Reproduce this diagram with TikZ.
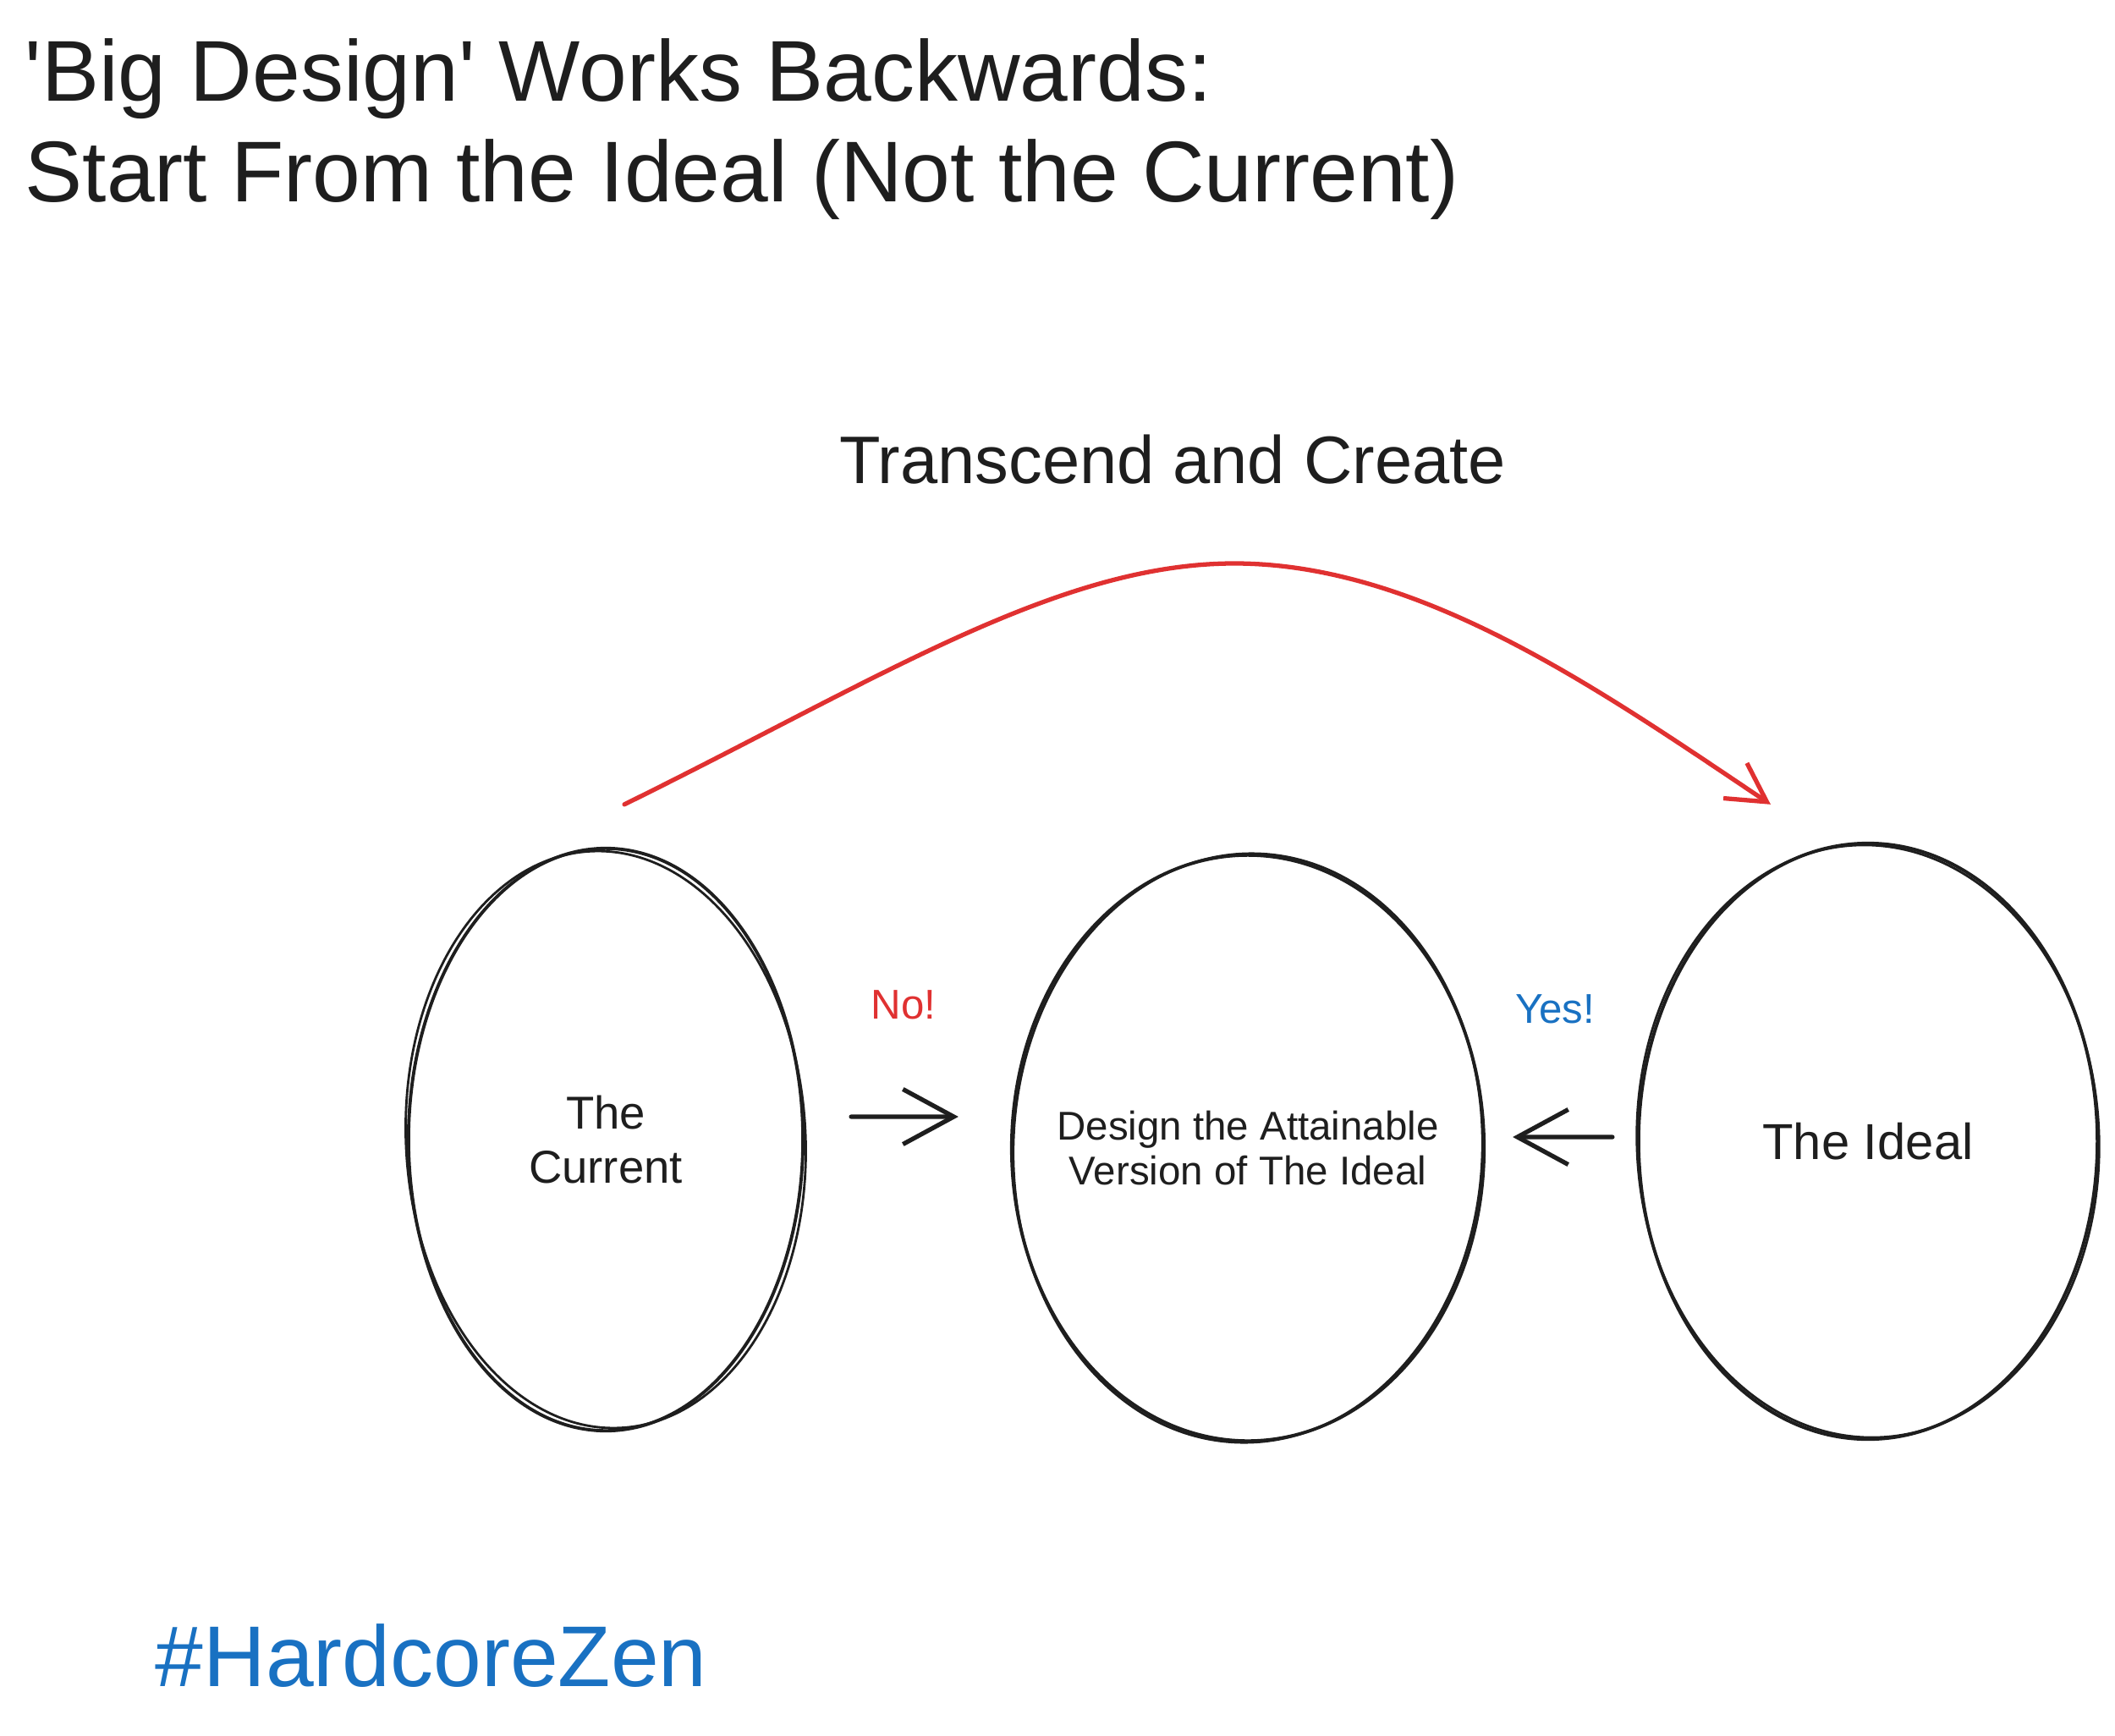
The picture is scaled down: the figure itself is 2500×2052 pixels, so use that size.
\documentclass[tikz,border=0pt]{standalone}
\usepackage{fontspec}
\setmainfont{Liberation Sans}
\usetikzlibrary{positioning, arrows.meta, shapes.geometric, calc}
\definecolor{inkcolor}{HTML}{1E1E1E}
\definecolor{nocolor}{HTML}{E03131}
\definecolor{yescolor}{HTML}{1971C2}

\begin{document}
\begin{tikzpicture}[x=0.01cm, y=-0.01cm,
    blob/.style={draw=inkcolor, ellipse, line width=1.1pt, inner sep=0pt,
                 align=center, text=inkcolor},
    sketchline/.style={draw=inkcolor, line width=0.8pt},
    push/.style={draw=inkcolor, line width=1.5pt, line cap=round,
                 -{Straight Barb[length=6mm, width=6.5mm, line width=1.5pt]}},
    leap/.style={draw=nocolor, line width=1.5pt, line cap=round,
                 -{Straight Barb[length=4.5mm, width=5mm, line width=1.5pt]}}]
  \useasboundingbox (0,0) rectangle (2500,2052);

  % title
  \node[anchor=base west, inner sep=0pt, text=inkcolor,
        font=\fontsize{29}{34}\selectfont] (title1) at (29,120)
    {\textquotesingle Big Design\textquotesingle\ Works Backwards:};
  \node[anchor=base west, inner sep=0pt, text=inkcolor,
        font=\fontsize{29}{34}\selectfont] (title2) at (29,239)
    {Start From the Ideal (Not the Current)};

  % the three states
  \node[blob, minimum width=4.66cm, minimum height=6.88cm,
        font=\fontsize{15.5}{18}\selectfont] (cur) at (716,1347)
    {The\\Current};
  \node[blob, minimum width=5.58cm, minimum height=6.92cm, inner xsep=-0.6cm,
        font=\fontsize{13.5}{15}\selectfont] (att) at (1475,1357)
    {Design the Attainable\\Version of The Ideal};
  \node[blob, minimum width=5.42cm, minimum height=7.04cm,
        font=\fontsize{17}{20}\selectfont] (ide) at (2208,1349)
    {The Ideal};
  \foreach \n/\rx/\ry/\a in {cur/2.36cm/3.41cm/3, att/2.77cm/3.48cm/-2, ide/2.73cm/3.50cm/2}
    \draw[sketchline, rotate around={\a:(\n.center)}] (\n.center)
      ellipse [x radius=\rx, y radius=\ry];

  % small arrows
  \draw[push] ([xshift=0.55cm, yshift=0.27cm]cur.east) -- ([xshift=-0.61cm, yshift=0.37cm]att.west);
  \draw[push] ([xshift=-0.29cm, yshift=0.05cm]ide.west) -- ([xshift=0.32cm, yshift=0.13cm]att.east);
  \node[inner sep=0pt, text=nocolor, font=\fontsize{14}{16}\selectfont] (no) at (1068,1188) {No!};
  \node[inner sep=0pt, text=yescolor, font=\fontsize{14}{16}\selectfont] (yes) at (1838,1193) {Yes!};

  % big jump
  \coordinate (peak) at (1459,666);
  \draw[leap] ([xshift=0.22cm, yshift=0.5cm]cur.north)
    .. controls (1038,803) and (1250,666) .. (peak)
    .. controls (1680,666) and (1893,817) .. ([xshift=-1.15cm, yshift=0.44cm]ide.north);
  \node[anchor=base, inner sep=0pt, text=inkcolor,
        font=\fontsize{22.6}{26}\selectfont] (leaplabel) at (1386,571)
    {Transcend and Create};

  \node[anchor=base west, inner sep=0pt, text=yescolor,
        font=\fontsize{29}{34}\selectfont] (tag) at (183,1993) {\#HardcoreZen};
\end{tikzpicture}
\end{document}
